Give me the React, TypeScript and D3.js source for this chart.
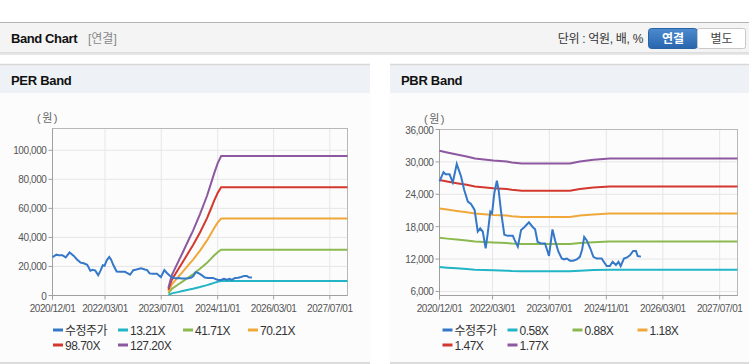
import React from "react";
import * as d3 from "d3";

// ---------- data ----------
const xTickLabels = ["2020/12/01", "2022/03/01", "2023/07/01", "2024/11/01", "2026/03/01", "2027/07/01"];
const xDomain = ["2020-12-01", "2027-12-01"];

const priceDates = [
  "2020-12-01", "2021-01-04", "2021-01-22", "2021-02-25", "2021-03-25", "2021-04-28", "2021-06-04",
  "2021-07-01", "2021-08-01", "2021-08-28", "2021-09-28", "2021-10-25", "2021-11-15", "2021-12-07",
  "2022-01-01", "2022-01-19", "2022-02-10", "2022-02-25", "2022-03-16", "2022-04-07", "2022-04-22",
  "2022-05-13", "2022-06-10", "2022-07-10", "2022-08-22", "2022-09-07", "2022-10-04", "2022-11-01",
  "2022-11-28", "2023-01-07", "2023-02-10", "2023-03-01", "2023-03-22", "2023-04-19", "2023-05-25",
  "2023-06-28", "2023-07-28", "2023-08-19", "2023-09-16", "2023-10-16", "2023-11-04", "2023-11-28",
  "2023-12-25", "2024-01-22", "2024-02-22", "2024-03-19", "2024-04-07", "2024-04-25", "2024-05-16",
  "2024-06-16", "2024-07-13", "2024-08-10", "2024-09-22", "2024-10-10", "2024-11-04", "2024-12-01",
  "2024-12-25", "2025-01-22", "2025-02-13", "2025-03-04", "2025-04-01", "2025-04-28", "2025-05-22",
  "2025-06-19", "2025-07-13", "2025-07-28", "2025-08-25",
];
const priceValues = [
  26400, 28100, 27700, 27700, 26200, 29600, 27300,
  24800, 22650, 22200, 21100, 17100, 17700, 17100,
  14000, 16800, 20800, 20500, 24200, 26500, 24800,
  20800, 16500, 16300, 16300, 15500, 14300, 17400,
  17900, 18800, 17900, 17500, 15200, 14900, 14900,
  12600, 17500, 15500, 13400, 12100, 11950, 12100,
  11700, 11700, 11950, 12400, 13700, 16100, 15500,
  14000, 12400, 12100, 12100, 11500, 10700, 10700,
  11500, 10900, 11500, 10700, 12100, 12300, 12700,
  13500, 13500, 12550, 12450,
];

// trailing EPS (PER band base)
const epsDates = [
  "2023-09-01", "2023-10-01", "2023-12-01", "2024-01-01", "2024-03-01", "2024-04-01",
  "2024-06-01", "2024-08-01", "2024-09-01", "2024-10-01", "2024-11-01", "2024-12-01", "2027-12-01",
];
const epsValues = [40, 110, 190, 230, 310, 350, 440, 540, 600, 660, 715, 755, 755];

// BPS (PBR band base)
const bpsDates = [
  "2020-12-01", "2021-02-04", "2021-04-28", "2021-07-22", "2021-10-01", "2022-03-07", "2022-07-01",
  "2022-08-13", "2022-11-07", "2023-12-25", "2024-03-19", "2024-07-13", "2024-12-01", "2027-12-01",
];
const bpsValues = [18117, 17939, 17729, 17519, 17309, 17099, 16994, 16889, 16784, 16784, 16994, 17172, 17309, 17309];

const perMultiples = [13.21, 41.71, 70.21, 98.7, 127.2];
const perLabels = ["13.21X", "41.71X", "70.21X", "98.70X", "127.20X"];
const pbrMultiples = [0.58, 0.88, 1.18, 1.47, 1.77];
const pbrLabels = ["0.58X", "0.88X", "1.18X", "1.47X", "1.77X"];

const perYTicks = [0, 20000, 40000, 60000, 80000, 100000];
const pbrYTicks = [6000, 12000, 18000, 24000, 30000, 36000];

const priceName = "수정주가";
const priceColor = "#3578c8";
const bandColors = ["#22b5c6", "#8cb94f", "#f0a83a", "#d2382e", "#8d58a0"];

const FONT = "'Liberation Sans', Arial, 'Noto Sans CJK KR', sans-serif";
const parse = d3.timeParse("%Y-%m-%d");

type ChartProps = {
  x0: number; x1: number; y0: number; y1: number;
  yDomain: [number, number]; yTicks: number[];
  baseDates: string[]; baseValues: number[];
  multiples: number[]; labels: string[];
  legendX: number; unitX: number;
};

function Chart(p: ChartProps) {
  const x = d3.scaleTime().domain(xDomain.map((d) => parse(d) as Date)).range([p.x0, p.x1]);
  const y = d3.scaleLinear().domain(p.yDomain).range([p.y1, p.y0]);
  const tickDates = xTickLabels.map((s) => d3.timeParse("%Y/%m/%d")(s) as Date);
  const line = d3.line<[Date, number]>().x((d) => x(d[0])).y((d) => y(d[1]));
  const fmt = d3.format(",");
  const baseDates = p.baseDates.map((d) => parse(d) as Date);
  const price: [Date, number][] = priceDates.map((d, i) => [parse(d) as Date, priceValues[i]]);
  const legendItems = [{ name: priceName, color: priceColor }].concat(
    p.labels.map((l, i) => ({ name: l, color: bandColors[i] }))
  );
  return (
    <g fontFamily={FONT}>
      <text x={p.unitX} y={p.y0 - 7} fontSize={11} fill="#666" letterSpacing={1.5}>(원)</text>
      {/* grid */}
      {p.yTicks.map((t) => (
        <line key={"gy" + t} x1={p.x0} x2={p.x1} y1={y(t)} y2={y(t)} stroke="#e6e6e6" />
      ))}
      {tickDates.map((t, i) => (
        <line key={"gx" + i} x1={x(t)} x2={x(t)} y1={p.y0} y2={p.y1} stroke="#e6e6e6" />
      ))}
      <rect x={p.x0} y={p.y0} width={p.x1 - p.x0} height={p.y1 - p.y0} fill="none" stroke="#b8b8b8" />
      <line x1={p.x0} x2={p.x0} y1={p.y0} y2={p.y1 + 4} stroke="#a0a0a0" />
      <line x1={p.x0} x2={p.x1} y1={p.y1} y2={p.y1} stroke="#a0a0a0" />
      {tickDates.map((t, i) => (
        <g key={"tx" + i}>
          <line x1={x(t)} x2={x(t)} y1={p.y1} y2={p.y1 + 4} stroke="#a0a0a0" />
          <text x={x(t)} y={p.y1 + 16} fontSize={10} letterSpacing={-0.45} textAnchor="middle" fill="#555">
            {xTickLabels[i]}
          </text>
        </g>
      ))}
      {p.yTicks.map((t) => (
        <g key={"ty" + t}>
          <line x1={p.x0 - 4} x2={p.x0} y1={y(t)} y2={y(t)} stroke="#a0a0a0" />
          <text x={p.x0 - 6} y={y(t) + 4} fontSize={10} letterSpacing={-0.4} textAnchor="end" fill="#555">
            {fmt(t)}
          </text>
        </g>
      ))}
      {/* bands */}
      {p.multiples.map((m, i) => (
        <path
          key={"b" + i}
          d={line(baseDates.map((d, j) => [d, p.baseValues[j] * m]))!}
          fill="none"
          stroke={bandColors[i]}
          strokeWidth={2}
        />
      ))}
      <path d={line(price)!} fill="none" stroke={priceColor} strokeWidth={2} />
      {/* legend */}
      {legendItems.map((it, i) => {
        const col = i % 4;
        const row = Math.floor(i / 4);
        const lx = p.legendX + col * 65;
        const ly = 330 + row * 15;
        return (
          <g key={"l" + i}>
            <line x1={lx} x2={lx + 10} y1={ly} y2={ly} stroke={it.color} strokeWidth={3} />
            <text x={lx + 12} y={ly + 4.5} fontSize={12} letterSpacing={-0.5} fill="#333">{it.name}</text>
          </g>
        );
      })}
    </g>
  );
}

export default function App() {
  return (
    <svg
      width={749}
      height={364}
      style={{ position: "absolute", left: 0, top: 0, background: "#fff" }}
      fontFamily={FONT}
    >
      {/* header */}
      <rect x={0} y={22} width={749} height={31} fill="#f4f4f4" />
      <line x1={0} x2={749} y1={22.5} y2={22.5} stroke="#b4b4b4" />
      <line x1={0} x2={749} y1={53} y2={53} stroke="#c8c8c8" />
      <line x1={0} x2={749} y1={54.5} y2={54.5} stroke="#e8e8e8" />
      <text x={11} y={43} fontSize={13} fontWeight="bold" fill="#111" letterSpacing={-0.4}>Band Chart</text>
      <text x={88} y={43} fontSize={12} fill="#888">[연결]</text>
      <text x={643} y={43} fontSize={12} fill="#333" textAnchor="end" letterSpacing={-0.3}>단위 : 억원, 배, %</text>
      <defs>
        <linearGradient id="btn" x1="0" y1="0" x2="0" y2="1">
          <stop offset="0" stopColor="#4c8bd0" />
          <stop offset="1" stopColor="#2865ad" />
        </linearGradient>
      </defs>
      <rect x={648.5} y={28.5} width={49} height={20} rx={3} fill="url(#btn)" stroke="#2a62a6" />
      <text x={673} y={43} fontSize={12} fontWeight="bold" fill="#fff" textAnchor="middle">연결</text>
      <rect x={697.5} y={28.5} width={48} height={20} rx={2} fill="#fff" stroke="#c8c8c8" />
      <text x={721.5} y={43} fontSize={12} fill="#444" textAnchor="middle">별도</text>

      {/* panels */}
      <rect x={0} y={64} width={370} height={299} fill="#fcfcfd" />
      <rect x={0} y={64} width={370} height={29} fill="#eef1f6" />
      <line x1={0} x2={370} y1={64.5} y2={64.5} stroke="#d8d8d8" strokeWidth={1.5} />
      <line x1={0} x2={370} y1={363} y2={363} stroke="#d0d0d0" strokeWidth={1.5} />
      <text x={11} y={85} fontSize={13} fontWeight="bold" fill="#111" letterSpacing={-0.3}>PER Band</text>

      <rect x={390} y={64} width={359} height={299} fill="#fcfcfd" />
      <rect x={390} y={64} width={359} height={29} fill="#eef1f6" />
      <line x1={390} x2={749} y1={64.5} y2={64.5} stroke="#d8d8d8" strokeWidth={1.5} />
      <line x1={390} x2={749} y1={363} y2={363} stroke="#d0d0d0" strokeWidth={1.5} />
      <text x={401} y={85} fontSize={13} fontWeight="bold" fill="#111" letterSpacing={-0.3}>PBR Band</text>

      <Chart
        x0={52.5} x1={347.5} y0={128.5} y1={295.5}
        yDomain={[0, 115000]} yTicks={perYTicks}
        baseDates={epsDates} baseValues={epsValues}
        multiples={perMultiples} labels={perLabels}
        legendX={53} unitX={37}
      />
      <Chart
        x0={439.5} x1={737.5} y0={129.5} y1={295.5}
        yDomain={[5250, 36000]} yTicks={pbrYTicks}
        baseDates={bpsDates} baseValues={bpsValues}
        multiples={pbrMultiples} labels={pbrLabels}
        legendX={442.5} unitX={424}
      />
    </svg>
  );
}
